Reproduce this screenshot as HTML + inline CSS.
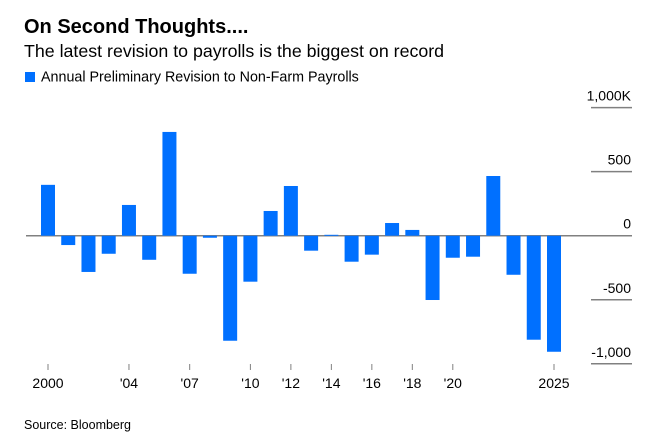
<!DOCTYPE html>
<html><head><meta charset="utf-8"><style>
body{margin:0;background:#fff;width:671px;height:439px;overflow:hidden;font-family:"Liberation Sans",Arial,sans-serif}
svg{display:block}
</style></head><body>
<svg width="671" height="439">
<text x="24" y="33" font-size="20" font-weight="bold" fill="#000">On Second Thoughts....</text>
<text x="24" y="57" font-size="17.8" fill="#000">The latest revision to payrolls is the biggest on record</text>
<rect x="25" y="72" width="10" height="10" fill="#0070ff"/>
<text x="41" y="81.5" font-size="14.3" fill="#000">Annual Preliminary Revision to Non-Farm Payrolls</text>
<g id="grid"></g>
<g id="bars"></g>
<g id="xaxis"></g>
<text x="24" y="429" font-size="12.5" fill="#000">Source: Bloomberg</text>
</svg>
<script>
const years=[2000,2001,2002,2003,2004,2005,2006,2007,2008,2009,2010,2011,2012,2013,2014,2015,2016,2017,2018,2019,2020,2021,2022,2023,2024,2025];
const values=[397,-73,-283,-141,240,-188,810,-297,-16,-820,-359,193,388,-117,7,-203,-148,99,45,-502,-172,-164,466,-305,-812,-906];
const yTicks=[1000,500,0,-500,-1000];
const yTickLabels=["1,000K","500","0","-500","-1,000"];
const xTickYears=[2000,2004,2007,2010,2012,2014,2016,2018,2020,2025];
const xTickLabels=["2000","'04","'07","'10","'12","'14","'16","'18","'20","2025"];
const NS="http://www.w3.org/2000/svg";
const y=v=>235.7-v*0.1281;
const x=yr=>48+(yr-2000)*20.24;
function mk(tag,attrs,parent){const e=document.createElementNS(NS,tag);for(const k in attrs)e.setAttribute(k,attrs[k]);document.getElementById(parent).appendChild(e);return e;}
yTicks.forEach((t,i)=>{
  if(t===0){
    const l=mk('line',{x1:26,x2:632,y1:y(0),y2:y(0),stroke:'#808080','stroke-width':1.5},'grid');
    
    
  } else {
    const l=mk('line',{x1:591,x2:632,y1:y(t),y2:y(t),stroke:'#808080','stroke-width':1.5},'grid');
    
    
  }
  const tx=mk('text',{x:631,y:y(t)-7,'text-anchor':'end','font-size':14,fill:'#000'},'grid');
  tx.textContent=yTickLabels[i];
  
  
});
years.forEach((yr,i)=>{
  const v=values[i];
  const top=v>=0?y(v):y(0);
  const h=Math.max(1,Math.abs(y(v)-y(0)));
  const r=mk('rect',{x:x(yr)-7,y:top,width:14,height:h,fill:'#0070ff'},'bars');
  
  
});
xTickYears.forEach((yr,i)=>{
  const l=mk('line',{x1:x(yr),x2:x(yr),y1:364,y2:370,stroke:'#808080','stroke-width':1},'xaxis');
  
  
  const t=mk('text',{x:x(yr),y:388,'text-anchor':'middle','font-size':14,fill:'#000'},'xaxis');
  t.textContent=xTickLabels[i];
  
  
});
</script>
</body></html>
